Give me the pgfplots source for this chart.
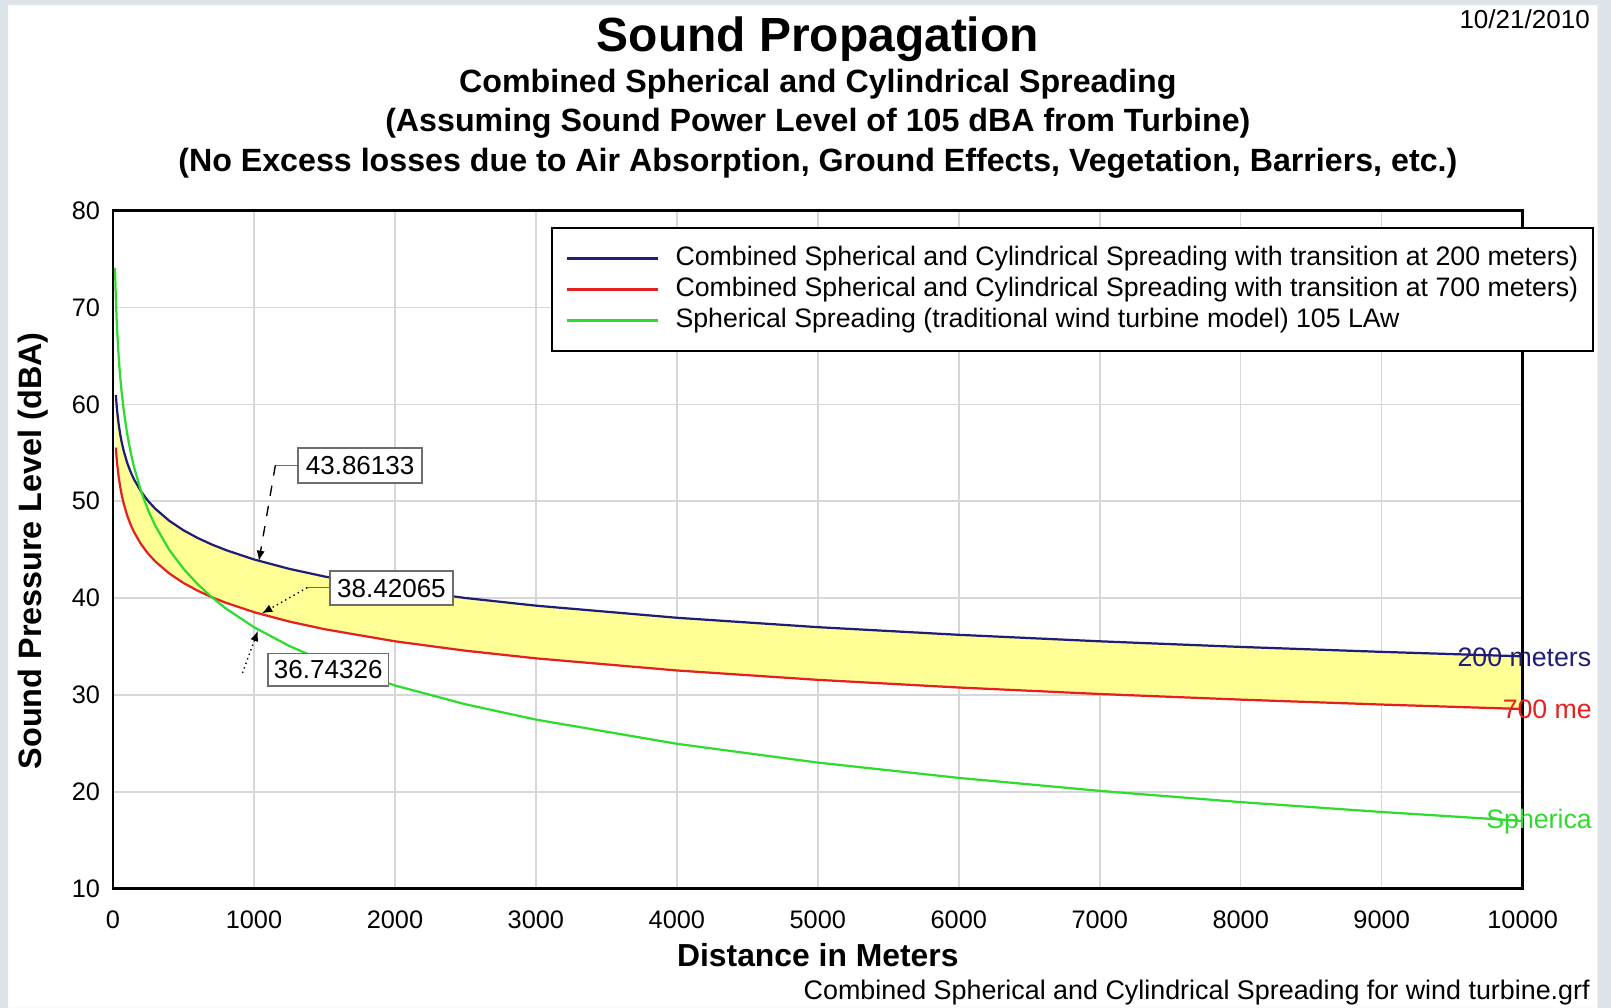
\documentclass[border=0pt]{standalone}
\usepackage{pgfplots}
\pgfplotsset{compat=1.18}
\usepgfplotslibrary{fillbetween}
\usetikzlibrary{arrows.meta}
\usepackage{fontspec}
\setmainfont{Liberation Sans}
\definecolor{bgray}{RGB}{221,227,233}
\definecolor{navyc}{RGB}{30,30,120}
\definecolor{redc}{RGB}{228,32,32}
\definecolor{greenc}{RGB}{45,220,45}
\definecolor{fillyel}{RGB}{255,255,150}
\definecolor{gridc}{RGB}{215,215,215}
\definecolor{boxc}{RGB}{110,110,110}
\begin{document}
\begin{tikzpicture}
\begin{scope}[x=0.3pt,y=-0.3pt]
\path[use as bounding box] (0,0) rectangle (1568,981);
\fill[bgray, even odd rule] (0,0) rectangle (1568,981) (8,5) rectangle (1555,981);
\end{scope}
\begin{axis}[
  at={(33pt,-259.5pt)}, anchor=south west,
  scale only axis, width=411.6pt, height=198pt,
  xmin=0, xmax=10000, ymin=10, ymax=80,
  xtick={0,1000,...,10000}, ytick={10,20,...,80},
  grid=major, grid style={gridc, line width=0.45pt},
  major tick length=0pt,
  axis line style={line width=0.75pt},
  scaled x ticks=false,
  /pgf/number format/1000 sep={},
  /pgf/number format/assume math mode=true,
  ticklabel style={font=\fontsize{7.4}{8}\selectfont, inner sep=0pt},
  xticklabel style={yshift=-6.3pt},
  yticklabel style={xshift=-3.6pt},
  set layers,
  legend cell align=left,
  legend style={at={(0.3105,0.9758)}, anchor=north west, draw=black, line width=0.6pt,
    font=\fontsize{7.8}{8}\selectfont,
    nodes={inner sep=0pt, text height=5.6pt, text depth=1.7pt},
    inner xsep=4.2pt, inner ysep=5.3pt, row sep=1.7pt, column sep=4.8pt},
  legend image code/.code={\draw[#1,line width=0.75pt] (0pt,0pt) -- (26.4pt,0pt);},
]
\addplot[navyc, line width=0.65pt, name path=A] coordinates {
(20,60.98) (25,60.01) (30,59.22) (40,57.97) (50,57.00) (60,56.21) (75,55.24)
(100,53.99) (125,53.02) (150,52.23) (200,50.98) (250,50.01) (300,49.22)
(400,47.97) (500,47.00) (600,46.21) (700,45.54) (800,44.96) (1000,43.99)
(1250,43.02) (1500,42.23) (2000,40.98) (2500,40.01) (3000,39.22) (4000,37.97)
(5000,37.00) (6000,36.21) (7000,35.54) (8000,34.96) (9000,34.45) (10000,33.99)};
\addlegendentry{Combined Spherical and Cylindrical Spreading with transition at 200 meters)}
\addplot[redc, line width=0.65pt, name path=B] coordinates {
(20,55.54) (25,54.57) (30,53.78) (40,52.53) (50,51.56) (60,50.77) (75,49.80)
(100,48.55) (125,47.58) (150,46.79) (200,45.54) (250,44.57) (300,43.78)
(400,42.53) (500,41.56) (600,40.77) (700,40.10) (800,39.52) (1000,38.55)
(1250,37.58) (1500,36.79) (2000,35.54) (2500,34.57) (3000,33.78) (4000,32.53)
(5000,31.56) (6000,30.77) (7000,30.10) (8000,29.52) (9000,29.01) (10000,28.55)};
\addlegendentry{Combined Spherical and Cylindrical Spreading with transition at 700 meters)}
\addplot[greenc, line width=0.65pt] coordinates {
(14,74.08) (20,70.98) (25,69.04) (30,67.46) (40,64.96) (50,63.02) (60,61.44) (75,59.50)
(100,57.00) (125,55.06) (150,53.48) (200,50.98) (250,49.04) (300,47.46)
(400,44.96) (500,43.02) (600,41.44) (700,40.10) (800,38.94) (1000,37.00)
(1250,35.06) (1500,33.48) (2000,30.98) (2500,29.04) (3000,27.46) (4000,24.96)
(5000,23.02) (6000,21.44) (7000,20.10) (8000,18.94) (9000,17.92) (10000,17.00)};
\addlegendentry{Spherical Spreading (traditional wind turbine model) 105 LAw}
\addplot[fillyel] fill between[of=A and B];
\end{axis}
\begin{scope}[x=0.3pt,y=-0.3pt]
\draw[line width=0.75pt] (110,205) rectangle (1482,865);
% titles
\node[anchor=base, font=\fontsize{14}{16}\selectfont\bfseries] at (796,50) {Sound Propagation};
\node[anchor=base, font=\fontsize{9.4}{10}\selectfont\bfseries] at (796,90) {Combined Spherical and Cylindrical Spreading};
\node[anchor=base, font=\fontsize{9.4}{10}\selectfont\bfseries] at (796,128) {(Assuming Sound Power Level of 105 dBA from Turbine)};
\node[anchor=base, font=\fontsize{9.4}{10}\selectfont\bfseries] at (796,167) {(No Excess losses due to Air Absorption, Ground Effects, Vegetation, Barriers, etc.)};
\node[anchor=base east, font=\fontsize{7.6}{8}\selectfont, inner sep=0pt] at (1548,28) {10/21/2010};
\node[anchor=base east, font=\fontsize{7.85}{8}\selectfont, inner sep=0pt] at (1548,973) {Combined Spherical and Cylindrical Spreading for wind turbine.grf};
\node[anchor=base, font=\fontsize{9.3}{10}\selectfont\bfseries] at (796,941) {Distance in Meters};
\node[rotate=90, font=\fontsize{9.45}{10}\selectfont\bfseries] at (32,536) {Sound Pressure Level (dBA)};
% end labels
\node[anchor=west, inner sep=0pt, text=navyc, font=\fontsize{7.8}{8}\selectfont] at (1418,640) {200 meters};
\node[anchor=west, inner sep=0pt, text=redc, font=\fontsize{7.8}{8}\selectfont] at (1462,690) {700 me};
\node[anchor=west, inner sep=0pt, text=greenc, font=\fontsize{7.8}{8}\selectfont] at (1446,800) {Spherica};
% annotations
\draw[boxc, line width=0.4pt] (290,453) -- (268,453);
\draw[black, line width=0.4pt, dashed, -{Latex[length=3pt,width=2.4pt]}] (268,453) -- (252,546);
\node[draw=boxc, fill=white, line width=0.5pt, minimum width=36.3pt, minimum height=10.2pt, inner sep=0pt, font=\fontsize{7.6}{8}\selectfont] at (350.5,453) {43.86133};
\draw[boxc, line width=0.4pt] (321,572) -- (299,572);
\draw[black, line width=0.4pt, densely dotted, -{Latex[length=3pt,width=2.4pt]}] (299,572) -- (255,597);
\node[draw=boxc, fill=white, line width=0.5pt, minimum width=36pt, minimum height=9.9pt, inner sep=0pt, font=\fontsize{7.6}{8}\selectfont] at (381,572.5) {38.42065};
\draw[black, line width=0.4pt, densely dotted, -{Latex[length=3pt,width=2.4pt]}] (236,655) -- (251,614);
\node[draw=boxc, fill=white, line width=0.5pt, minimum width=35.1pt, minimum height=9.6pt, inner sep=0pt, font=\fontsize{7.6}{8}\selectfont] at (319.5,652) {36.74326};
\end{scope}
\end{tikzpicture}
\end{document}
